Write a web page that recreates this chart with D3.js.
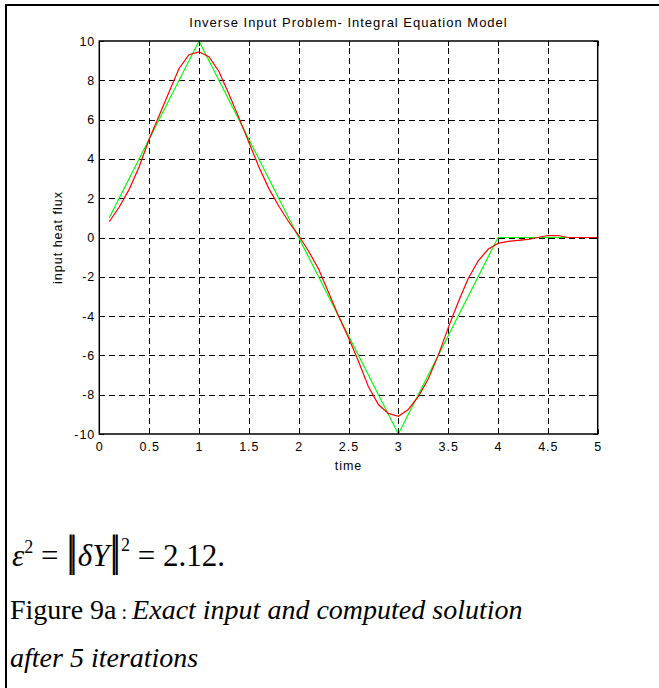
<!DOCTYPE html>
<html>
<head>
<meta charset="utf-8">
<script src="https://cdn.jsdelivr.net/npm/d3@7"></script>
<style>
body { margin: 0; background: #fff; }
</style>
</head>
<body>
<div id="svg"></div>
<script>
// datos
const exactTime = [0.1, 1, 3, 4, 5];
const exactFlux = [1, 10, -10, 0, 0];

const computedTime = [0.1, 0.2, 0.3, 0.4, 0.5, 0.6, 0.7, 0.8, 0.9, 1.0,
    1.1, 1.2, 1.3, 1.4, 1.5, 1.6, 1.7, 1.8, 1.9, 2.0,
    2.1, 2.2, 2.3, 2.4, 2.5, 2.6, 2.7, 2.8, 2.9, 3.0,
    3.1, 3.2, 3.3, 3.4, 3.5, 3.6, 3.7, 3.8, 3.9, 4.0,
    4.1, 4.2, 4.3, 4.4, 4.5, 4.6, 4.7, 4.8, 4.9, 5.0];
const computedFlux = [0.8, 1.55, 2.45, 3.6, 5.0, 6.2, 7.4, 8.6, 9.3, 9.45,
    9.2, 8.45, 7.3, 6.1, 4.85, 3.6, 2.5, 1.6, 0.8, 0.1,
    -0.7, -1.6, -2.8, -4.0, -5.1, -6.3, -7.6, -8.5, -8.95, -9.1,
    -8.75, -8.1, -7.2, -6.0, -4.6, -3.3, -2.1, -1.2, -0.6, -0.3,
    -0.2, -0.15, -0.1, 0.0, 0.1, 0.1, 0.0, 0.0, 0.0, 0.0];

const xTicks = [0, 0.5, 1, 1.5, 2, 2.5, 3, 3.5, 4, 4.5, 5];
const yTicks = [-10, -8, -6, -4, -2, 0, 2, 4, 6, 8, 10];

const titleText = "Inverse Input Problem- Integral Equation Model";
const xLabelText = "time";
const yLabelText = "input heat flux";

// tamaño del SVG
const width = 659;
const height = 688;
const margin = {
    top: 41,
    bottom: 254,
    right: 61.3,
    left: 99.3,
};
const plotW = width - margin.left - margin.right;
const plotH = height - margin.top - margin.bottom;

const svg = d3
    .select("#svg")
    .append("svg")
    .attr("width", width)
    .attr("height", height)
    .style("display", "block");

svg.append("rect").attr("width", width).attr("height", height).attr("fill", "#fff");

// marco del documento (solo arriba e izquierda)
svg.append("path")
    .attr("d", `M6,${height} L6,5 L${width},5`)
    .attr("fill", "none")
    .attr("stroke", "#000")
    .attr("stroke-width", 2);

const x = d3.scaleLinear().domain([0, 5]).range([margin.left, margin.left + plotW]);
const y = d3.scaleLinear().domain([-10, 10]).range([margin.top + plotH, margin.top]);

const axisFont = "'Liberation Sans', Arial, sans-serif";
const plainNumber = (d) => String(d);

// grilla punteada
const gridX = svg.append("g")
    .attr("transform", `translate(0,${margin.top + plotH})`)
    .call(d3.axisBottom(x).tickValues(xTicks.slice(1, -1)).tickSize(-plotH).tickFormat(""));
const gridY = svg.append("g")
    .attr("transform", `translate(${margin.left},0)`)
    .call(d3.axisLeft(y).tickValues(yTicks.slice(1, -1)).tickSize(-plotW).tickFormat(""));
[gridX, gridY].forEach((g) => {
    g.select(".domain").remove();
    g.selectAll("line")
        .attr("stroke", "#000")
        .attr("stroke-dasharray", "6,4")
        .attr("shape-rendering", "crispEdges");
});

// lineas de datos
const line = d3.line().x((d) => x(d[0])).y((d) => y(d[1]));

svg.append("path")
    .datum(exactTime.map((t, i) => [t, exactFlux[i]]))
    .attr("d", line)
    .attr("fill", "none")
    .attr("stroke", "#00ff00")
    .attr("stroke-width", 1.2);

svg.append("path")
    .datum(computedTime.map((t, i) => [t, computedFlux[i]]))
    .attr("d", line)
    .attr("fill", "none")
    .attr("stroke", "#ff0000")
    .attr("stroke-width", 1.2);

// ejes con ticks hacia adentro
const styleAxis = (g) => {
    g.select(".domain").remove();
    g.selectAll("line").attr("stroke", "#000").attr("shape-rendering", "crispEdges");
    g.selectAll("text")
        .attr("fill", "#000")
        .style("font-family", axisFont)
        .style("font-size", "12.5px")
        .style("letter-spacing", "1px");
};

svg.append("g")
    .attr("transform", `translate(0,${margin.top + plotH})`)
    .call(d3.axisBottom(x).tickValues(xTicks).tickSize(-5).tickPadding(8.5).tickFormat(plainNumber))
    .call(styleAxis);
svg.append("g")
    .attr("transform", `translate(0,${margin.top})`)
    .call(d3.axisTop(x).tickValues(xTicks).tickSize(-5).tickFormat(""))
    .call(styleAxis);
svg.append("g")
    .attr("transform", `translate(${margin.left},0)`)
    .call(d3.axisLeft(y).tickValues(yTicks).tickSize(-5).tickPadding(4).tickFormat(plainNumber))
    .call(styleAxis);
svg.append("g")
    .attr("transform", `translate(${margin.left + plotW},0)`)
    .call(d3.axisRight(y).tickValues(yTicks).tickSize(-5).tickFormat(""))
    .call(styleAxis);

svg.append("rect")
    .attr("x", margin.left)
    .attr("y", margin.top)
    .attr("width", plotW)
    .attr("height", plotH)
    .attr("fill", "none")
    .attr("stroke", "#000")
    .attr("stroke-width", 1.5);

// titulo y etiquetas
const label = (txt, px, py, size) => svg.append("text")
    .attr("x", px)
    .attr("y", py)
    .attr("text-anchor", "middle")
    .style("font-family", axisFont)
    .style("font-size", size)
    .style("letter-spacing", "1px")
    .text(txt);

label(titleText, margin.left + plotW / 2, 27, "13px");
label(xLabelText, margin.left + plotW / 2, 470, "12.5px");
label(yLabelText, 0, 0, "12.5px")
    .attr("transform", `translate(62,${margin.top + plotH / 2}) rotate(-90)`);

// texto del documento
const serif = "'Liberation Serif', 'Times New Roman', serif";

const formula = svg.append("text")
    .attr("x", 12)
    .attr("y", 566)
    .style("font-family", serif)
    .style("font-size", "31px");
formula.append("tspan").style("font-style", "italic").text("ε");
formula.append("tspan").attr("dy", -13).style("font-size", "18px").text("2");
formula.append("tspan").attr("dy", 13).text(" = ");
formula.append("tspan").style("font-size", "44px").style("font-weight", "300").style("letter-spacing", "-6px").text("||");
formula.append("tspan").attr("dx", 6).style("font-style", "italic").text("δY");
formula.append("tspan").style("font-size", "44px").style("font-weight", "300").style("letter-spacing", "-6px").text("||");
formula.append("tspan").attr("dx", 6).attr("dy", -15).style("font-size", "18px").text("2");
formula.append("tspan").attr("dy", 15).text(" = 2.12.");

const caption = svg.append("text")
    .attr("x", 10)
    .attr("y", 619)
    .style("font-family", serif)
    .style("font-size", "28px");
caption.append("tspan").text("Figure 9a");
caption.append("tspan").style("font-size", "20px").text(" : ");
caption.append("tspan").style("font-style", "italic").text("Exact input and computed solution");

svg.append("text")
    .attr("x", 10)
    .attr("y", 667)
    .style("font-family", serif)
    .style("font-size", "28px")
    .style("font-style", "italic")
    .text("after 5 iterations");
</script>
</body>
</html>
